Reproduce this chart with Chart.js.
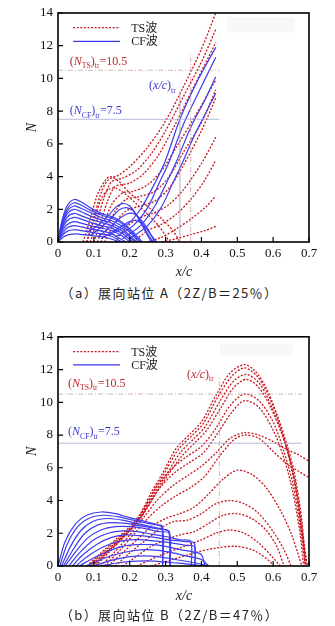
<!DOCTYPE html>
<html>
<head>
<meta charset="utf-8">
<script src="https://cdn.jsdelivr.net/npm/chart.js@4.4.1/dist/chart.umd.min.js"></script>
<style>
body { margin: 0; background: #fff; width: 335px; height: 626px; position: relative; overflow: hidden; }
canvas { position: absolute; left: 0; }
.cap { position: absolute; left: 0; width: 339px; text-align: center; font: 13px "Noto Sans CJK SC"; letter-spacing: 1.4px; line-height: 18px; color: #222; }
</style>
</head>
<body>
<canvas id="chartA" width="335" height="282" style="top:0"></canvas>
<canvas id="chartB" width="335" height="282" style="top:324px"></canvas>
<div class="cap" style="top:284px">（a）展向站位 A（2Z/B＝25％）</div>
<div class="cap" style="top:606px">（b）展向站位 B（2Z/B＝47％）</div>
<script>
// ---- data: station A ----
const tsCurvesA = [
  [[0.08,0],[0.10,1.5],[0.12,3.0],[0.14,3.8],[0.17,4.1],[0.20,4.6],[0.25,5.8],[0.30,7.4],[0.35,9.5],[0.40,11.8],[0.44,14.0]],
  [[0.09,0],[0.11,1.4],[0.13,2.8],[0.15,3.7],[0.18,3.9],[0.22,4.4],[0.26,5.4],[0.30,6.8],[0.35,8.9],[0.40,11.0],[0.44,13.0]],
  [[0.10,0],[0.12,1.3],[0.14,2.6],[0.16,3.4],[0.20,3.6],[0.24,4.2],[0.28,5.3],[0.32,6.9],[0.37,9.1],[0.44,12.2]],
  [[0.11,0],[0.13,1.2],[0.15,2.3],[0.18,3.0],[0.21,3.1],[0.25,3.5],[0.29,4.4],[0.33,5.8],[0.38,7.6],[0.44,9.9]],
  [[0.12,0],[0.14,1.0],[0.16,1.9],[0.19,2.6],[0.23,2.8],[0.27,3.1],[0.31,4.0],[0.35,5.5],[0.40,7.3],[0.44,9.3]],
  [[0.13,0],[0.16,1.2],[0.19,1.9],[0.23,2.2],[0.27,2.5],[0.31,3.3],[0.35,4.7],[0.40,6.8],[0.44,8.8]],
  [[0.16,0],[0.19,0.9],[0.23,1.5],[0.27,1.8],[0.31,2.3],[0.35,3.2],[0.40,4.8],[0.44,6.4]],
  [[0.21,0],[0.25,0.7],[0.29,1.1],[0.33,1.7],[0.37,2.6],[0.41,3.8],[0.44,5.0]],
  [[0.25,0],[0.29,0.3],[0.33,0.8],[0.37,1.4],[0.41,2.1],[0.44,2.8]],
  [[0.29,0],[0.33,0.2],[0.37,0.45],[0.41,0.7],[0.44,0.95]],
  [[0.07,0],[0.09,1.4],[0.11,2.9],[0.13,3.7],[0.145,4.0],[0.17,3.7],[0.20,3.0],[0.23,2.5],[0.26,2.0],[0.29,1.4],[0.32,0.7],[0.34,0]],
  [[0.08,0],[0.10,1.3],[0.12,2.6],[0.14,3.2],[0.16,3.3],[0.19,2.9],[0.22,2.3],[0.25,1.7],[0.28,1.0],[0.30,0.4],[0.31,0]]
];
const cfCurvesA = [
  [[0,0],[0.01,1.2],[0.025,2.2],[0.045,2.6],[0.065,2.45],[0.09,2.1],[0.12,1.75],[0.15,1.55],[0.18,1.2],[0.21,0.6],[0.235,0]],
  [[0,0],[0.01,1.1],[0.025,2.0],[0.045,2.4],[0.065,2.25],[0.09,1.95],[0.12,1.65],[0.15,1.45],[0.18,1.1],[0.21,0.5],[0.23,0]],
  [[0,0],[0.01,1.0],[0.025,1.85],[0.045,2.2],[0.065,2.05],[0.09,1.8],[0.12,1.5],[0.15,1.3],[0.18,0.95],[0.21,0.4],[0.225,0]],
  [[0,0],[0.01,0.9],[0.025,1.7],[0.045,2.0],[0.065,1.85],[0.09,1.6],[0.12,1.35],[0.15,1.15],[0.18,0.8],[0.20,0.4],[0.22,0]],
  [[0,0],[0.01,0.8],[0.025,1.5],[0.045,1.75],[0.065,1.6],[0.09,1.4],[0.12,1.2],[0.15,1.0],[0.18,0.65],[0.20,0.3],[0.215,0]],
  [[0,0],[0.01,0.7],[0.025,1.3],[0.045,1.5],[0.065,1.4],[0.09,1.2],[0.12,1.0],[0.15,0.85],[0.18,0.5],[0.20,0.15],[0.21,0]],
  [[0,0],[0.01,0.6],[0.025,1.05],[0.045,1.25],[0.065,1.15],[0.09,1.0],[0.12,0.85],[0.15,0.7],[0.18,0.35],[0.20,0]],
  [[0,0],[0.01,0.45],[0.025,0.85],[0.045,1.0],[0.065,0.92],[0.09,0.8],[0.12,0.68],[0.15,0.5],[0.17,0.25],[0.19,0]],
  [[0,0],[0.01,0.35],[0.025,0.65],[0.045,0.75],[0.065,0.7],[0.09,0.6],[0.12,0.5],[0.15,0.35],[0.17,0.1],[0.18,0]],
  [[0,0],[0.015,0.3],[0.03,0.45],[0.05,0.5],[0.07,0.45],[0.10,0.38],[0.13,0.3],[0.16,0.1],[0.17,0]],
  [[0.08,0.6],[0.11,1.0],[0.14,1.6],[0.16,2.1],[0.18,2.35],[0.20,2.2],[0.22,1.6],[0.24,0.8],[0.26,0]],
  [[0.09,0.4],[0.12,0.9],[0.15,1.5],[0.17,1.95],[0.19,2.1],[0.21,1.9],[0.23,1.3],[0.25,0.5],[0.265,0]],
  [[0.11,0.3],[0.14,0.8],[0.17,1.4],[0.19,1.7],[0.21,1.75],[0.23,1.4],[0.25,0.8],[0.27,0]],
  [[0.12,0.2],[0.15,0.6],[0.18,1.0],[0.20,1.25],[0.22,1.3],[0.24,1.0],[0.26,0.4],[0.275,0]],
  [[0.14,0.4],[0.19,1.0],[0.23,2.0],[0.27,3.6],[0.30,5.0],[0.34,7.5],[0.39,9.9],[0.44,11.9]],
  [[0.16,0.3],[0.21,1.0],[0.25,2.1],[0.28,3.5],[0.31,4.9],[0.35,7.2],[0.40,9.5],[0.44,11.3]],
  [[0.18,0.2],[0.23,1.0],[0.27,2.2],[0.30,3.5],[0.33,4.9],[0.37,7.0],[0.41,8.7],[0.44,10.1]],
  [[0.20,0.2],[0.25,1.0],[0.29,2.2],[0.32,3.6],[0.35,5.0],[0.38,6.5],[0.41,7.8],[0.44,9.1]]
];
const nTsLineA = [[0,10.5],[0.45,10.5]];
const nCfLineA = [[0,7.5],[0.45,7.5]];
const xCfLineA = [[0.34,0],[0.34,9.2]];
const xTsLineA = [[0.37,0],[0.37,11.6]];

// ---- data: station B ----
const tsCurvesB = [
  [[0.08,0],[0.12,0.8],[0.16,1.6],[0.20,2.4],[0.23,3.2],[0.26,4.5],[0.29,5.6],[0.33,7.2],[0.37,8.1],[0.40,8.8],[0.44,10.4],[0.48,11.8],[0.52,12.3],[0.55,11.9],[0.58,10.9],[0.61,9.3],[0.64,7.3],[0.66,5.6],[0.68,2.8],[0.69,0]],
  [[0.085,0],[0.125,0.8],[0.165,1.6],[0.205,2.4],[0.235,3.2],[0.265,4.5],[0.295,5.6],[0.335,7.1],[0.375,8.0],[0.405,8.7],[0.445,10.3],[0.485,11.6],[0.52,12.1],[0.555,11.6],[0.585,10.5],[0.615,8.9],[0.64,7.0],[0.66,5.0],[0.68,2.2],[0.69,0]],
  [[0.09,0],[0.13,0.8],[0.17,1.6],[0.21,2.4],[0.24,3.3],[0.27,4.5],[0.30,5.5],[0.34,6.9],[0.38,7.8],[0.41,8.5],[0.45,10.0],[0.49,11.3],[0.525,11.7],[0.56,11.2],[0.59,10.0],[0.62,8.4],[0.645,6.7],[0.665,4.6],[0.68,2.0],[0.695,0]],
  [[0.095,0],[0.135,0.8],[0.175,1.6],[0.215,2.5],[0.245,3.4],[0.275,4.5],[0.305,5.5],[0.345,6.7],[0.385,7.6],[0.415,8.3],[0.455,9.7],[0.49,10.9],[0.525,11.4],[0.56,10.9],[0.595,9.6],[0.625,8.0],[0.65,6.2],[0.67,4.0],[0.685,1.6],[0.695,0]],
  [[0.10,0],[0.14,0.9],[0.18,1.8],[0.22,2.8],[0.25,3.9],[0.28,5.0],[0.32,6.0],[0.36,6.7],[0.40,7.3],[0.44,8.4],[0.48,9.8],[0.52,10.5],[0.56,10.1],[0.60,8.8],[0.63,7.0],[0.655,5.0],[0.675,2.5],[0.69,0]],
  [[0.105,0],[0.145,0.9],[0.185,1.8],[0.225,2.8],[0.255,3.8],[0.285,4.8],[0.325,5.7],[0.365,6.3],[0.405,6.9],[0.445,8.1],[0.485,9.4],[0.52,10.1],[0.56,9.7],[0.60,8.3],[0.63,6.6],[0.655,4.5],[0.675,2.0],[0.685,0]],
  [[0.12,0],[0.16,0.9],[0.20,1.9],[0.24,3.0],[0.28,4.1],[0.32,4.9],[0.36,5.5],[0.40,6.1],[0.44,6.9],[0.48,7.8],[0.52,8.15],[0.56,8.0],[0.60,7.6],[0.64,7.1],[0.67,6.8],[0.70,6.4]],
  [[0.13,0],[0.17,0.9],[0.21,1.9],[0.25,2.9],[0.29,3.7],[0.33,4.3],[0.37,4.8],[0.41,5.5],[0.45,6.7],[0.49,7.7],[0.52,8.0],[0.56,7.8],[0.60,7.0],[0.64,6.2],[0.67,5.8],[0.70,5.4]],
  [[0.14,0],[0.18,0.8],[0.22,1.6],[0.26,2.4],[0.30,2.9],[0.34,3.2],[0.38,3.6],[0.42,4.4],[0.46,5.3],[0.50,5.85],[0.54,5.6],[0.58,4.8],[0.62,3.4],[0.65,2.0],[0.67,0.7],[0.68,0]],
  [[0.16,0],[0.20,0.8],[0.24,1.5],[0.28,2.2],[0.32,2.7],[0.36,2.8],[0.40,3.2],[0.44,3.8],[0.48,4.0],[0.52,3.8],[0.56,3.2],[0.60,2.1],[0.63,1.0],[0.65,0]],
  [[0.18,0],[0.22,0.6],[0.26,1.2],[0.30,1.6],[0.34,1.9],[0.38,2.1],[0.42,2.6],[0.46,3.1],[0.50,3.2],[0.54,2.9],[0.58,2.2],[0.61,1.2],[0.63,0]],
  [[0.22,0],[0.28,0.6],[0.34,1.1],[0.40,1.6],[0.44,2.0],[0.48,2.2],[0.52,2.0],[0.56,1.4],[0.60,0.5],[0.62,0]],
  [[0.26,0],[0.32,0.4],[0.38,0.8],[0.44,1.1],[0.50,1.2],[0.55,0.9],[0.59,0.3],[0.60,0]]
];
const cfCurvesB = [
  [[0,0],[0.02,1.5],[0.05,2.6],[0.08,3.1],[0.12,3.3],[0.16,3.2],[0.20,2.95],[0.24,2.75],[0.28,2.5],[0.29,2.45],[0.292,0]],
  [[0.005,0],[0.025,1.3],[0.055,2.4],[0.09,2.95],[0.13,3.1],[0.17,3.0],[0.21,2.8],[0.25,2.6],[0.29,2.35],[0.292,0]],
  [[0.01,0],[0.035,1.2],[0.065,2.2],[0.10,2.75],[0.14,2.9],[0.18,2.8],[0.22,2.6],[0.26,2.4],[0.30,2.2],[0.31,2.1],[0.312,0]],
  [[0.015,0],[0.045,1.1],[0.075,2.0],[0.11,2.5],[0.15,2.65],[0.19,2.6],[0.23,2.45],[0.27,2.3],[0.31,2.1],[0.312,0]],
  [[0.02,0],[0.05,0.9],[0.085,1.75],[0.12,2.2],[0.16,2.4],[0.20,2.4],[0.24,2.3],[0.28,2.1],[0.31,2.0],[0.312,0]],
  [[0.03,0],[0.06,0.8],[0.10,1.6],[0.14,2.0],[0.18,2.15],[0.22,2.1],[0.26,1.95],[0.30,1.8],[0.34,1.6],[0.37,1.5],[0.372,0]],
  [[0.04,0],[0.07,0.7],[0.11,1.35],[0.15,1.75],[0.19,1.9],[0.23,1.85],[0.27,1.75],[0.31,1.6],[0.35,1.5],[0.38,1.4],[0.382,0]],
  [[0.05,0],[0.08,0.55],[0.12,1.1],[0.16,1.45],[0.20,1.6],[0.24,1.6],[0.28,1.5],[0.32,1.4],[0.36,1.25],[0.38,1.2],[0.382,0]],
  [[0.06,0],[0.10,0.5],[0.14,0.9],[0.18,1.2],[0.22,1.3],[0.26,1.3],[0.30,1.2],[0.34,1.0],[0.38,0.85],[0.40,0.7],[0.41,0]],
  [[0.08,0],[0.12,0.4],[0.16,0.7],[0.20,0.9],[0.24,1.0],[0.28,0.95],[0.32,0.8],[0.36,0.6],[0.40,0.4],[0.42,0]],
  [[0.10,0],[0.14,0.3],[0.18,0.5],[0.22,0.6],[0.26,0.6],[0.30,0.5],[0.34,0.35],[0.38,0.2],[0.42,0]],
  [[0.12,0],[0.17,0.2],[0.22,0.3],[0.27,0.3],[0.32,0.2],[0.37,0.1],[0.40,0]]
];
const nTsLineB = [[0,10.5],[0.68,10.5]];
const nCfLineB = [[0,7.5],[0.68,7.5]];
const xTsLineB = [[0.45,0],[0.45,11.6]];

const xTickValues = [0, 0.1, 0.2, 0.3, 0.4, 0.5, 0.6, 0.7];
const yTickValues = [0, 2, 4, 6, 8, 10, 12, 14];

const TS_COLOR = '#c8161e';
const CF_COLOR = '#3d3df0';
const RED_TEXT = '#c1272d';
const BLUE_TEXT = '#3b3bd0';
const SERIF = '"Liberation Serif", "Noto Sans CJK SC"';

function pts(arr) { return arr.map(p => ({ x: p[0], y: p[1] })) }

function curveSets(ts, cf) {
  const sets = []
  cf.forEach(c => sets.push({ data: pts(c), borderColor: CF_COLOR, borderWidth: 1.2, tension: 0.3, pointRadius: 0, fill: false }))
  ts.forEach(c => sets.push({ data: pts(c), borderColor: TS_COLOR, borderWidth: 1.3, borderDash: [2, 1.6], tension: 0.3, pointRadius: 0, fill: false }))
  return sets
}

function refSet(arr, color, dash) {
  return { data: pts(arr), borderColor: color, borderWidth: 0.8, borderDash: dash || [], pointRadius: 0, tension: 0, fill: false }
}

function drawParts(ctx, x, y, parts, color, size) {
  ctx.fillStyle = color
  ctx.textBaseline = 'alphabetic'
  ctx.textAlign = 'left'
  parts.forEach(p => {
    const s = p.sub ? size * 0.64 : size
    ctx.font = (p.it ? 'italic ' : '') + s + 'px ' + SERIF
    ctx.fillText(p.t, x, y + (p.sub ? size * 0.3 : 0))
    x += ctx.measureText(p.t).width
  })
}

const decor = {
  id: 'decor',
  afterDraw(chart, args, opts) {
    const { ctx, chartArea: a, scales: { x, y } } = chart
    ctx.save()
    // faint box in upper right
    ctx.fillStyle = '#f8f8f8'
    ctx.fillRect(x.getPixelForValue(opts.box[0]), y.getPixelForValue(opts.box[3]),
      x.getPixelForValue(opts.box[1]) - x.getPixelForValue(opts.box[0]),
      y.getPixelForValue(opts.box[2]) - y.getPixelForValue(opts.box[3]))
    // frame
    ctx.strokeStyle = '#000'
    ctx.lineWidth = 1.6
    ctx.strokeRect(a.left, a.top, a.right - a.left, a.bottom - a.top)
    // inward ticks
    ctx.lineWidth = 1.2
    ctx.beginPath()
    yTickValues.forEach(v => {
      const py = y.getPixelForValue(v)
      ctx.moveTo(a.left, py); ctx.lineTo(a.left + 5, py)
    })
    xTickValues.forEach(v => {
      const px = x.getPixelForValue(v)
      ctx.moveTo(px, a.bottom); ctx.lineTo(px, a.bottom - 5)
    })
    ctx.stroke()
    // axis titles
    ctx.fillStyle = '#222'
    ctx.font = 'italic 14px ' + SERIF
    ctx.textAlign = 'center'
    ctx.textBaseline = 'middle'
    ctx.fillText('x/c', (a.left + a.right) / 2 + 0.5, a.bottom + 30)
    ctx.save()
    ctx.translate(32, (a.top + a.bottom) / 2)
    ctx.rotate(-Math.PI / 2)
    ctx.fillText('N', 0, 0)
    ctx.restore()
    // legend
    const lx0 = x.getPixelForValue(0.042), lx1 = x.getPixelForValue(0.173), tx = x.getPixelForValue(0.204)
    const yTs = y.getPixelForValue(opts.legendY[0]), yCf = y.getPixelForValue(opts.legendY[1])
    ctx.lineWidth = 1.3
    ctx.strokeStyle = TS_COLOR
    ctx.setLineDash([2, 1.6])
    ctx.beginPath(); ctx.moveTo(lx0, yTs); ctx.lineTo(lx1, yTs); ctx.stroke()
    ctx.setLineDash([])
    ctx.strokeStyle = CF_COLOR
    ctx.beginPath(); ctx.moveTo(lx0, yCf); ctx.lineTo(lx1, yCf); ctx.stroke()
    ctx.fillStyle = '#222'
    ctx.textAlign = 'left'
    ctx.font = '12px ' + SERIF
    ctx.fillText('TS波', tx, yTs + 1)
    ctx.fillText('CF波', tx, yCf + 1)
    // annotations
    opts.notes.forEach(n => drawParts(ctx, x.getPixelForValue(n.x), y.getPixelForValue(n.y), n.parts, n.color, 12))
    ctx.restore()
  }
}

const nTsParts = [{ t: '(' }, { t: 'N', it: 1 }, { t: 'TS', sub: 1 }, { t: ')' }, { t: 'tr', sub: 1 }, { t: '=10.5' }]
const nCfParts = [{ t: '(' }, { t: 'N', it: 1 }, { t: 'CF', sub: 1 }, { t: ')' }, { t: 'tr', sub: 1 }, { t: '=7.5' }]
const xcParts = [{ t: '(' }, { t: 'x/c', it: 1 }, { t: ')' }, { t: 'tr', sub: 1 }]

function makeChart(id, datasets, topPad, decorOpts) {
  const tickFont = { family: 'Liberation Serif', size: 13 }
  return new Chart(document.getElementById(id), {
    type: 'line',
    data: { datasets },
    options: {
      responsive: false,
      animation: false,
      devicePixelRatio: 1,
      layout: { padding: { left: 0, right: 26, top: topPad, bottom: 0 } },
      plugins: { legend: { display: false }, tooltip: { enabled: false }, decor: decorOpts },
      scales: {
        x: {
          type: 'linear', min: 0, max: 0.7,
          afterFit(s) { s.height = 40 },
          grid: { display: false, drawTicks: false },
          border: { display: false },
          ticks: { stepSize: 0.1, autoSkip: false, maxRotation: 0, padding: 4, color: '#111', font: tickFont,
            callback: v => (Math.abs(v) < 1e-9 ? '0' : v.toFixed(1)) }
        },
        y: {
          type: 'linear', min: 0, max: 14,
          afterFit(s) { s.width = 58 },
          grid: { display: false, drawTicks: false },
          border: { display: false },
          ticks: { stepSize: 2, padding: 5, color: '#111', font: tickFont }
        }
      }
    },
    plugins: [decor]
  })
}

const datasetsA = [
  refSet(nTsLineA, '#c9a3a6', [5, 2, 1, 2]),
  refSet(nCfLineA, '#a8a8d8'),
  refSet(xCfLineA, '#9a9ab8'),
  refSet(xTsLineA, '#c9a3a6', [5, 2, 1, 2])
].concat(curveSets(tsCurvesA, cfCurvesA))

const datasetsB = [
  refSet(nTsLineB, '#c9a3a6', [5, 2, 1, 2]),
  refSet(nCfLineB, '#a8a8d8'),
  refSet(xTsLineB, '#c9a3a6', [5, 2, 1, 2])
].concat(curveSets(tsCurvesB, cfCurvesB))

makeChart('chartA', datasetsA, 13, {
  box: [0.471, 0.661, 12.8, 13.75],
  legendY: [13.1, 12.27],
  notes: [
    { x: 0.033, y: 10.85, parts: nTsParts, color: RED_TEXT },
    { x: 0.033, y: 7.8, parts: nCfParts, color: BLUE_TEXT },
    { x: 0.254, y: 9.35, parts: xcParts, color: BLUE_TEXT }
  ]
})

makeChart('chartB', datasetsB, 12, {
  box: [0.452, 0.655, 12.85, 13.6],
  legendY: [13.09, 12.29],
  notes: [
    { x: 0.028, y: 10.95, parts: nTsParts, color: RED_TEXT },
    { x: 0.028, y: 8.0, parts: nCfParts, color: BLUE_TEXT },
    { x: 0.36, y: 11.5, parts: xcParts, color: RED_TEXT }
  ]
})
</script>
</body>
</html>
